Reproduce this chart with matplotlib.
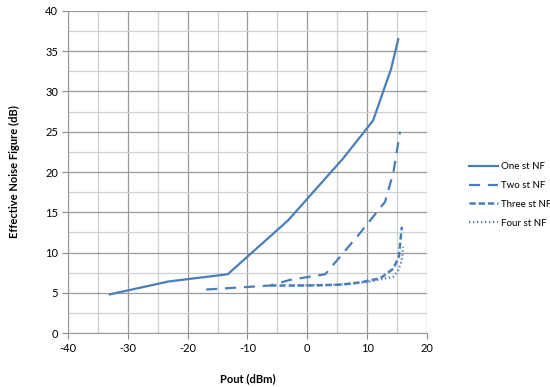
import matplotlib.pyplot as plt
from matplotlib.ticker import MultipleLocator

# data
one_x = [-33.0, -23.2, -13.3, -3.2, 6.0, 11.0, 14.0, 15.2]
one_y = [4.8, 6.4, 7.3, 14.0, 21.7, 26.4, 32.8, 36.5]

two_x = [-16.9, -6.2, -2.9, 3.0, 8.8, 13.0, 14.4, 15.5]
two_y = [5.4, 5.9, 6.6, 7.3, 12.4, 16.3, 20.0, 25.0]

three_x = [-6.2, 0.0, 5.5, 9.0, 12.2, 14.4, 15.3, 15.8]
three_y = [5.9, 5.9, 6.0, 6.3, 6.8, 8.0, 9.5, 13.2]

four_x = [-3.0, 3.0, 7.2, 10.5, 14.4, 15.2, 15.8, 16.0]
four_y = [5.9, 5.95, 6.1, 6.4, 7.0, 7.8, 9.0, 10.7]

blue = "#4A7EBB"
plt.rcParams["font.family"] = ["Lato", "DejaVu Sans"]
plt.rcParams["axes.unicode_minus"] = False

fig = plt.figure(figsize=(5.5, 3.87), dpi=100)
ax = fig.add_axes([0.1236, 0.1395, 0.6527, 0.8321])

ax.plot(one_x, one_y, color=blue, lw=1.6, label="One st NF")
ax.plot(two_x, two_y, color=blue, lw=1.6, dashes=(5, 3.5), label="Two st NF")
ax.plot(three_x, three_y, color=blue, lw=1.8, dashes=(2.5, 1.2), label="Three st NF")
ax.plot(four_x, four_y, color=blue, lw=1.6, dashes=(0.6, 1.2), label="Four st NF")

ax.set_xlim(-40, 20)
ax.set_ylim(0, 40)
ax.xaxis.set_major_locator(MultipleLocator(10))
ax.xaxis.set_minor_locator(MultipleLocator(5))
ax.yaxis.set_major_locator(MultipleLocator(5))
ax.yaxis.set_minor_locator(MultipleLocator(2.5))
ax.grid(which="major", color="#9a9a9a", lw=0.9)
ax.grid(which="minor", color="#d0d0d0", lw=0.9)
ax.set_axisbelow(True)

for s in ax.spines.values():
    s.set_color("#9a9a9a")
ax.spines["top"].set_visible(False)
ax.spines["right"].set_visible(False)
ax.tick_params(which="major", length=4, color="#8a8a8a", labelsize=8, pad=3)
ax.tick_params(which="minor", length=0)

ax.set_xlabel("Pout (dBm)", fontsize=8, fontweight="bold", labelpad=14)
ax.set_ylabel("Effective Noise Figure (dB)", fontsize=8, fontweight="bold", labelpad=18)

ax.legend(loc="upper left", bbox_to_anchor=(1.117, 0.53), frameon=False,
          borderaxespad=0, borderpad=0, fontsize=7, handlelength=3.0,
          handletextpad=0.3, labelspacing=1.0)

fig.savefig("out.png", dpi=100)
